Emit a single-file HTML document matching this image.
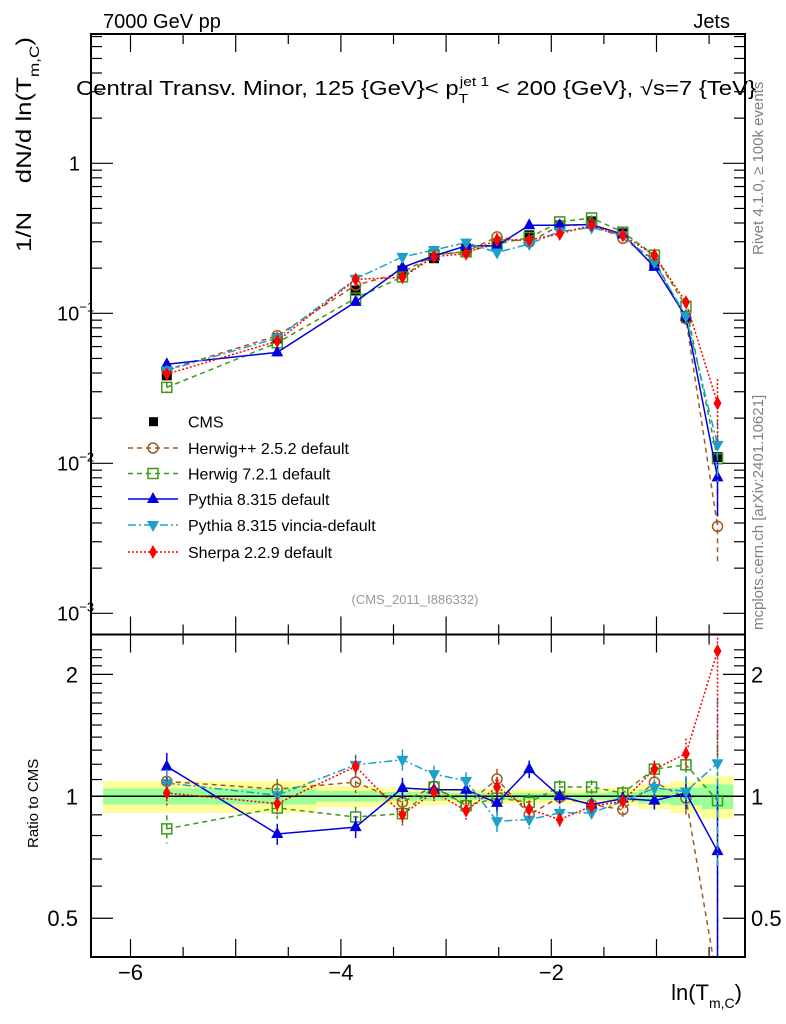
<!DOCTYPE html>
<html><head><meta charset="utf-8">
<style>
html,body{margin:0;padding:0;background:#fff;overflow:hidden;}
svg{display:block;font-family:"Liberation Sans",sans-serif;}
</style></head>
<body>
<svg id="chart" width="786" height="1024" viewBox="0 0 786 1024" xmlns="http://www.w3.org/2000/svg">
<g id="bands"></g>
<g id="marks"></g>
<g id="axes"></g>
<text x="103" y="28" font-size="20">7000 GeV pp</text>
<text x="730" y="28" font-size="20" text-anchor="end">Jets</text>
<text x="76" y="95" font-size="20" textLength="680" lengthAdjust="spacingAndGlyphs">Central Transv. Minor, 125 {GeV}&lt; p<tspan font-size="13" dy="8">T</tspan><tspan font-size="13" dx="-7" dy="-17">jet 1</tspan><tspan dy="9"> &lt; 200 {GeV}, √s=7 {TeV}</tspan></text>
<text transform="translate(31,252) rotate(-90)" font-size="21" textLength="215" lengthAdjust="spacingAndGlyphs">1/N&#160;&#160;&#160;&#160;dN/d ln(T<tspan font-size="14" dy="8">m,C</tspan><tspan dy="-8">)</tspan></text>
<text transform="translate(38,848) rotate(-90)" font-size="15">Ratio to CMS</text>
<text x="742" y="1000" font-size="22" text-anchor="end">ln(T<tspan font-size="14" dy="8">m,C</tspan><tspan dy="-8">)</tspan></text>
<text transform="translate(763,255) rotate(-90)" font-size="15" fill="#808080">Rivet 4.1.0, ≥ 100k events</text>
<text transform="translate(763,630) rotate(-90)" font-size="15" fill="#808080">mcplots.cern.ch [arXiv:2401.10621]</text>
<text x="415" y="604" font-size="13" fill="#999" text-anchor="middle">(CMS_2011_I886332)</text>
<g id="legend"></g>
</svg>
<script>
// ---- data ----
const xVals = [-5.655,-4.605,-3.86,-3.415,-3.115,-2.81,-2.516,-2.21,-1.92,-1.617,-1.32,-1.02,-0.72,-0.42];
const binEdges = [-6.26,-5.13,-4.23,-3.64,-3.265,-2.96,-2.66,-2.36,-2.065,-1.77,-1.47,-1.17,-0.87,-0.57,-0.27];
const cmsVals = [0.0386,0.068,0.142,0.193,0.233,0.271,0.293,0.331,0.386,0.41,0.341,0.209,0.093,0.011];
const bandOuter = [0.09,0.09,0.06,0.05,0.05,0.04,0.04,0.04,0.04,0.04,0.05,0.07,0.09,0.12];
const bandInner = [0.045,0.045,0.03,0.025,0.025,0.02,0.02,0.02,0.02,0.02,0.025,0.04,0.05,0.07];
const herwigPPRatio = [1.088,1.042,1.084,0.967,1.058,0.950,1.103,0.901,0.995,0.954,0.927,1.084,0.99,0.345];
const herwig7Ratio = [0.831,0.936,0.889,0.906,1.054,0.948,0.990,0.967,1.054,1.054,1.019,1.167,1.196,0.976];
const pythiaRatio = [1.185,0.807,0.839,1.048,1.038,1.038,0.963,1.167,1.00,0.954,0.987,0.976,1.019,0.732];
const vinciaRatio = [1.078,1.006,1.196,1.231,1.134,1.092,0.868,0.876,0.910,0.910,0.972,1.048,1.028,1.207];
const sherpaRatio = [1.019,0.959,1.185,0.901,1.024,0.922,1.054,0.930,0.876,0.945,0.972,1.167,1.274,2.284];
const mcErr = [0.08,0.06,0.06,0.06,0.05,0.05,0.06,0.05,0.04,0.04,0.04,0.05,0.09,0.45];
const yTickLabels = ["1","10","10","10"];
const yTickExps = ["","−1","−2","−3"];
const xTickLabels = ["−6","−4","−2"];
const xTickVals = [-6,-4,-2];
const legendLabels = ["CMS","Herwig++ 2.5.2 default","Herwig 7.2.1 default","Pythia 8.315 default","Pythia 8.315 vincia-default","Sherpa 2.2.9 default"];

// ---- geometry ----
const L=91,R=745,T=34,MID=634.5,B=957;
const X=v=>130.5+(v+6)*105.2;
const Y=v=>163.3-Math.log10(v)*150;
const YR=r=>796.3-Math.log10(r)*405;
const NS="http://www.w3.org/2000/svg";
function mk(parent,tag,attrs){const e=document.createElementNS(NS,tag);for(const k in attrs)e.setAttribute(k,attrs[k]);parent.appendChild(e);return e;}
const bands=document.getElementById('bands'),marks=document.getElementById('marks'),axes=document.getElementById('axes'),legend=document.getElementById('legend');

for(let i=0;i<xVals.length;i++){
  const x0=X(binEdges[i]),x1=X(binEdges[i+1]);
  const y=mk(bands,'rect',{x:x0,y:YR(1+bandOuter[i]),width:x1-x0,height:YR(1-bandOuter[i])-YR(1+bandOuter[i]),fill:'#ffff99'});
  
  
  const g=mk(bands,'rect',{x:x0,y:YR(1+bandInner[i]),width:x1-x0,height:YR(1-bandInner[i])-YR(1+bandInner[i]),fill:'#99ff99'});
  
  
}
const one=mk(bands,'line',{x1:L,x2:R,y1:YR(1),y2:YR(1),stroke:'#000','stroke-width':1.5});



const series=[
 {name:'herwigpp',ratio:herwigPPRatio,color:'#a5591e',dash:'5,4',marker:'circle'},
 {name:'herwig7',ratio:herwig7Ratio,color:'#3a9a1a',dash:'5,4',marker:'square'},
 {name:'pythia',ratio:pythiaRatio,color:'#0000e0',dash:'',marker:'up'},
 {name:'vincia',ratio:vinciaRatio,color:'#1ca0c8',dash:'8,3,2,3',marker:'down'},
 {name:'sherpa',ratio:sherpaRatio,color:'#ff0000',dash:'2,2',marker:'diamond'}
];
function marker(p,type,x,y,c){
  let e;
  if(type==='circle')e=mk(p,'circle',{cx:x,cy:y,r:5,fill:'none',stroke:c,'stroke-width':1.5});
  else if(type==='square')e=mk(p,'rect',{x:x-5,y:y-5,width:10,height:10,fill:'none',stroke:c,'stroke-width':1.5});
  else if(type==='fsquare')e=mk(p,'rect',{x:x-5,y:y-5,width:10,height:10,fill:c});
  else if(type==='up')e=mk(p,'polygon',{points:`${x},${y-7} ${x-6},${y+4} ${x+6},${y+4}`,fill:c});
  else if(type==='down')e=mk(p,'polygon',{points:`${x},${y+7} ${x-6},${y-4} ${x+6},${y-4}`,fill:c});
  else e=mk(p,'polygon',{points:`${x},${y-7} ${x-4},${y} ${x},${y+7} ${x+4},${y}`,fill:c});
  return e;
}
const defs=mk(document.getElementById('chart'),'defs',{});
const c1=mk(defs,'clipPath',{id:'cMain'});mk(c1,'rect',{x:L,y:T,width:R-L,height:MID-T});
const c2=mk(defs,'clipPath',{id:'cRatio'});mk(c2,'rect',{x:L,y:MID,width:R-L,height:B-MID});
const gMain=mk(marks,'g',{'clip-path':'url(#cMain)'});


const gRat=mk(marks,'g',{'clip-path':'url(#cRatio)'});



xVals.forEach((v,i)=>{
  const m=marker(gMain,'fsquare',X(v),Y(cmsVals[i]),'#000');
  
  
});

series.forEach(s=>{
  const ptsM=xVals.map((v,i)=>X(v)+','+Y(cmsVals[i]*s.ratio[i])).join(' ');
  const ptsR=xVals.map((v,i)=>X(v)+','+YR(s.ratio[i])).join(' ');
  const lm=mk(gMain,'polyline',{points:ptsM,fill:'none',stroke:s.color,'stroke-width':1.5,'stroke-dasharray':s.dash});
  
  
  const lr=mk(gRat,'polyline',{points:ptsR,fill:'none',stroke:s.color,'stroke-width':1.5,'stroke-dasharray':s.dash});
  
  
  xVals.forEach((v,i)=>{
    const x=X(v),r=s.ratio[i],e=mcErr[i];
    const eb=mk(gRat,'line',{x1:x,x2:x,y1:YR(r*(1+e)),y2:YR(Math.max(0.05,r*(1-e))),stroke:s.color,'stroke-width':1.5,'stroke-dasharray':s.dash});
    
    
    const em=mk(gMain,'line',{x1:x,x2:x,y1:Y(cmsVals[i]*r*(1+e)),y2:Y(cmsVals[i]*Math.max(0.05,r*(1-e))),stroke:s.color,'stroke-width':1.5,'stroke-dasharray':s.dash});
    
    
    const mm=marker(gMain,s.marker,x,Y(cmsVals[i]*r),s.color);
    
    
    const mr=marker(gRat,s.marker,x,YR(r),s.color);
    
    
  });
});

[[T,MID],[MID,B]].forEach(([t,b],k)=>{
  const f=mk(axes,'rect',{x:L,y:t,width:R-L,height:b-t,fill:'none',stroke:'#000','stroke-width':2});
  
  
  for(let v=-6.0;v<=-0.2;v+=0.5){
    const x=X(v),maj=Math.abs(v-Math.round(v))<0.01,len=maj?18:10;
    mk(axes,'line',{x1:x,x2:x,y1:b,y2:b-len,stroke:'#000','stroke-width':1.2});
    mk(axes,'line',{x1:x,x2:x,y1:t,y2:t+len,stroke:'#000','stroke-width':1.2});
  }
});
for(let d=-3;d<=0;d++){
  for(let m=1;m<=9;m++){
    const v=m*Math.pow(10,d),y=Y(v);if(y<T||y>MID)continue;
    const len=m===1?22:11;
    mk(axes,'line',{x1:L,x2:L+len,y1:y,y2:y,stroke:'#000','stroke-width':1.2});
    mk(axes,'line',{x1:R,x2:R-len,y1:y,y2:y,stroke:'#000','stroke-width':1.2});
  }
}
for(let m=1;m<=7;m++){const y=Y(m*10);if(y>=T){mk(axes,'line',{x1:L,x2:L+11,y1:y,y2:y,stroke:'#000','stroke-width':1.2});mk(axes,'line',{x1:R,x2:R-11,y1:y,y2:y,stroke:'#000','stroke-width':1.2});}}
yTickLabels.forEach((lab,i)=>{
  const y=Y(Math.pow(10,-i));
  const t=mk(axes,'text',{x:yTickExps[i]?57:80,y:y+7,'font-size':20,'text-anchor':yTickExps[i]?'start':'end'});
  
  
  t.textContent=lab;
  if(yTickExps[i]){const s=mk(t,'tspan',{'font-size':13,dy:-9});s.textContent=yTickExps[i];}
});
const rTicks=[0.4,0.5,0.6,0.7,0.8,0.9,1,1.1,1.2,1.3,1.4,1.5,1.6,1.7,1.8,1.9,2,2.1,2.2,2.3];
rTicks.forEach(r=>{
  const y=YR(r);if(y<MID||y>B)return;
  const maj=(r===0.5||r===1||r===2),len=maj?22:11;
  mk(axes,'line',{x1:L,x2:L+len,y1:y,y2:y,stroke:'#000','stroke-width':1.2});
  mk(axes,'line',{x1:R,x2:R-len,y1:y,y2:y,stroke:'#000','stroke-width':1.2});
});
[["2",2],["1",1],["0.5",0.5]].forEach(([lab,r])=>{
  const a=mk(axes,'text',{x:78,y:YR(r)+8,'font-size':22,'text-anchor':'end'});
  
  
  a.textContent=lab;
  const b=mk(axes,'text',{x:751,y:YR(r)+8,'font-size':22});
  
  
  b.textContent=lab;
});
xTickLabels.forEach((lab,i)=>{
  const t=mk(axes,'text',{x:X(xTickVals[i]),y:980,'font-size':22,'text-anchor':'middle'});
  
  
  t.textContent=lab;
});
const legY=[421.7,448,473.5,499,525,552];
const legStyles=[{c:'#000',m:'fsquare',d:null}].concat(series.map(s=>({c:s.color,m:s.marker,d:s.dash})));
legendLabels.forEach((lab,i)=>{
  const g=mk(legend,'g',{});
  
  
  const st=legStyles[i],y=legY[i];
  if(st.d!==null)mk(g,'line',{x1:128,x2:178,y1:y,y2:y,stroke:st.c,'stroke-width':1.5,'stroke-dasharray':st.d});
  if(st.m==='fsquare')mk(g,'rect',{x:149,y:y-4.5,width:9,height:9,fill:'#000'});
  else marker(g,st.m,153,y,st.c);
  const t=mk(g,'text',{x:188,y:y+6,'font-size':16});
  t.textContent=lab;
});
</script>
</body></html>
